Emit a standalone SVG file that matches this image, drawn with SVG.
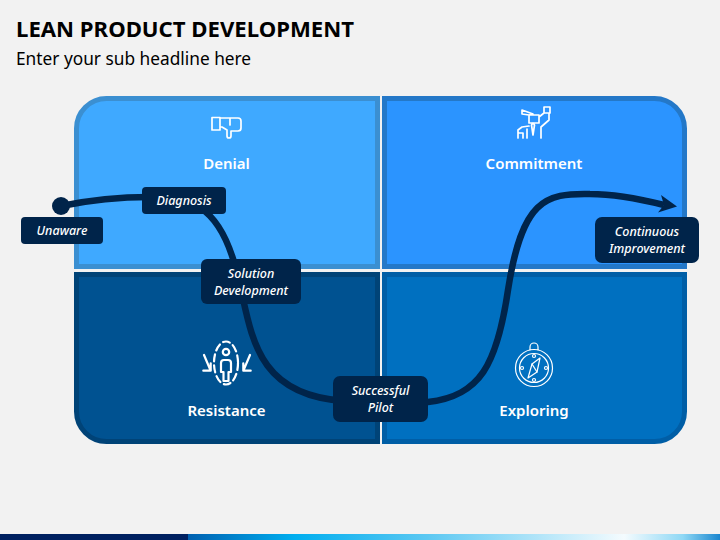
<svg xmlns="http://www.w3.org/2000/svg" width="720" height="540" viewBox="0 0 720 540">
<style>
.q{stroke-width:5}
.lbl{font-family:"Noto Sans",sans-serif;font-size:15px;font-weight:600;fill:#fff;text-anchor:middle}
.tag{fill:#00244a}
.t{font-family:"Noto Sans",sans-serif;font-size:12.5px;font-weight:500;font-style:italic;fill:#fff;text-anchor:middle}
.ic{fill:none;stroke:#fff;stroke-width:1.7;stroke-linejoin:round;stroke-linecap:round}
</style>
<defs>
<linearGradient id="g" x1="0" x2="1" y1="0" y2="0">
<stop offset="0" stop-color="#0060b0"/><stop offset="0.2" stop-color="#00aeef"/><stop offset="0.45" stop-color="#5cc8f2"/><stop offset="0.82" stop-color="#f4fbfe"/><stop offset="0.93" stop-color="#8fd8f5"/><stop offset="1" stop-color="#1a86cf"/>
</linearGradient>
</defs>
<rect width="720" height="540" fill="#f2f2f2"/>
<rect x="0" y="534" width="188" height="6" fill="#002060"/>
<rect x="188" y="534" width="532" height="6" fill="url(#g)"/>
<text x="16" y="37" font-family="'Noto Sans',sans-serif" font-size="22.150" font-weight="700" fill="#000">LEAN PRODUCT DEVELOPMENT</text>
<text x="16" y="65" font-family="'Noto Sans',sans-serif" font-size="17.300" fill="#000">Enter your sub headline here</text>
<g id="denial">
<path class="q" d="M76.500 266.500V128.500a30 30 0 0 1 30-30H377.500V266.500Z" fill="#3fa9ff" stroke="#3b8fd1"/>
<path class="ic" d="M212 117.500h8v12.500h-8zM220 118h18q3 0 3 3v7q0 3-3 3h-7v5q0 2-2 2t-2-2v-6l-5-3h-2M230 118v7"/>
<text class="lbl" x="226.500" y="168.500">Denial</text>
</g>
<g id="commitment">
<path class="q" d="M384.500 98.500H654.500a30 30 0 0 1 30 30V266.500H384.500Z" fill="#2b94ff" stroke="#2478c8"/>
<path class="ic" d="M518 138v-8l4-3 7-1M527 138v-9M519 133h4v5M529 115h10v8h-10zM533 123l-1.500 2 1.500 10 1.500-10zM522 110l11 4-4 1-7-1zM544 107h6v6h-6zM549 113v7l-8 7v11M539 117l5-4"/>
<text class="lbl" x="534" y="168.500">Commitment</text>
</g>
<g id="resistance">
<path class="q" d="M76.500 274.500H377.500V441.500H106.500a30 30 0 0 1-30-30Z" fill="#005291" stroke="#004377"/>
<g class="ic" style="stroke-width:2.200">
<ellipse cx="226" cy="363" rx="12" ry="21.500" stroke-dasharray="7 4"/>
<circle cx="226" cy="352" r="3.200"/>
<path d="M221 372v-9q0-3 3-3h4q3 0 3 3v9h-2.500v9h-5v-9z"/>
<path d="M204 355l6.700 15.700M203.300 370.700h7.400v-7.400"/>
<path d="M250 355l-6.700 15.700M250.700 370.700h-7.400v-7.400"/>
</g>
<text class="lbl" x="226.500" y="415.500">Resistance</text>
</g>
<g id="exploring">
<path class="q" d="M384.500 274.500H684.500V411.500a30 30 0 0 1-30 30H384.500Z" fill="#0070c0" stroke="#005ea6"/>
<g class="ic" style="stroke-width:1.200">
<circle cx="534" cy="368" r="18.500"/>
<circle cx="534" cy="368" r="14.500"/>
<path d="M530 350v-3a4 4 0 0 1 8 0v3"/>
<path d="M528 378l4-14 8-6-3 14z"/>
<path d="M532 364l5 8"/>
<circle cx="534" cy="356" r="1.500"/><circle cx="534" cy="380" r="1.500"/><circle cx="522" cy="368" r="1.500"/><circle cx="546" cy="368" r="1.500"/>
</g>
<text class="lbl" x="534" y="415.500">Exploring</text>
</g>
<g id="connectors">
<circle cx="61" cy="206" r="9" fill="#00244a"/>
<path d="M61 206C90 200 115 197 150 197C190 197 217 205 234 262C252 320 245 395 345 401C350 401 400 405 428 402C480 396 497 365 508 290C522 200 545 193 590 194C615 194 640 199 664 205" fill="none" stroke="#00244a" stroke-width="6.500"/>
<path d="M661 195L677 206.500L658 212.500L664 205Z" fill="#00244a"/>
</g>
<g id="unaware"><rect class="tag" x="21" y="217" width="82" height="27" rx="4"/><text class="t" x="62" y="235">Unaware</text></g>
<g id="diagnosis"><rect class="tag" x="142" y="187" width="84" height="27" rx="4"/><text class="t" x="184" y="205">Diagnosis</text></g>
<g id="solution"><rect class="tag" x="201" y="259" width="100" height="45" rx="6"/><text class="t" x="251" y="278">Solution</text><text class="t" x="251" y="295">Development</text></g>
<g id="pilot"><rect class="tag" x="333" y="376" width="95" height="46" rx="7"/><text class="t" x="380.500" y="395">Successful</text><text class="t" x="380.500" y="412">Pilot</text></g>
<g id="improvement"><rect class="tag" x="595" y="217" width="104" height="46" rx="7"/><text class="t" x="647" y="236">Continuous</text><text class="t" x="647" y="253">Improvement</text></g>
</svg>
